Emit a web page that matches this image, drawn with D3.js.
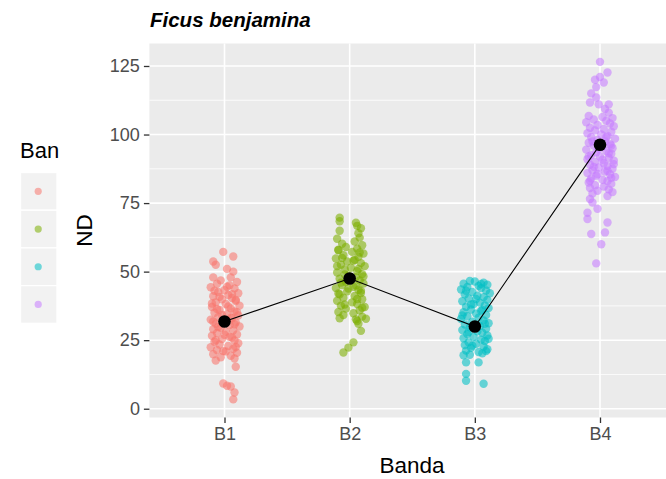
<!DOCTYPE html>
<html>
<head>
<meta charset="utf-8">
<script src="https://cdn.jsdelivr.net/npm/d3@7"></script>
<style>
  html, body { margin: 0; padding: 0; background: #ffffff; }
  svg { display: block; font-family: "Liberation Sans", Arial, sans-serif; }
</style>
</head>
<body>
<svg id="chart" width="666" height="479"></svg>
<script>
// Bands along the transect and their colours
const bands = ["B1", "B2", "B3", "B4"];
const bandColors = ["#F8766D", "#7CAE00", "#00BFC4", "#C77CFF"];
const yTicks = [0, 25, 50, 75, 100, 125];

// Mean ND per band (black points joined by the line)
const bandMeans = [31.8, 47.5, 30.0, 96.3];

// Individual observations per band: [horizontal jitter (band units), ND]
const ndB1 = [
  [-0.01,57.2],[0.07,55.5],[-0.09,53.7],[-0.07,52.5],[0.02,51.0],[0.07,50.0],[-0.09,47.9],[0.05,47.9],
  [-0.03,46.8],[0.10,46.2],[-0.06,45.6],[0.04,45.0],[-0.11,44.3],[0.08,43.9],[0.00,43.2],[-0.05,42.6],
  [0.11,42.1],[0.03,41.5],[-0.09,41.0],[0.06,40.4],[-0.02,39.9],[0.09,39.3],[-0.07,38.8],[0.01,38.2],
  [0.12,37.6],[-0.10,37.1],[0.05,36.6],[-0.04,36.0],[0.08,35.5],[-0.08,35.0],[0.02,34.5],[0.11,34.0],
  [-0.05,33.5],[0.06,33.0],[-0.11,32.5],[-0.01,32.0],[0.09,31.5],[-0.07,31.0],[0.04,30.5],[0.12,30.0],
  [-0.03,29.5],[-0.09,29.0],[0.07,28.6],[0.01,28.1],[-0.06,27.6],[0.10,27.1],[-0.10,26.6],[0.04,26.2],
  [-0.02,25.4],[0.08,24.9],[-0.08,24.4],[0.11,23.9],[-0.04,23.4],[0.03,22.9],[-0.11,22.4],[0.07,21.9],
  [-0.06,21.4],[0.01,20.9],[0.10,20.4],[-0.09,19.9],[0.05,19.3],[-0.03,18.8],[0.08,18.3],[-0.07,17.6],
  [0.02,44.5],[-0.08,43.0],[0.06,41.8],[-0.04,40.8],[0.09,39.7],[-0.10,38.4],[0.03,37.3],[-0.06,36.4],
  [0.10,35.2],[-0.02,34.2],[0.05,33.2],[-0.09,31.8],[0.08,30.8],[-0.05,29.8],[0.00,27.0],[0.06,26.0],
  [-0.07,25.0],[0.09,22.5],[-0.01,21.0],
  [0.09,15.3],[-0.01,9.2],[0.02,8.4],[0.05,8.1],[0.08,5.9],[0.07,3.4]
];
const ndB2 = [
  [-0.08,69.7],[-0.08,68.4],[0.05,67.8],[0.06,66.7],[0.09,65.8],[-0.08,64.9],[0.07,64.0],[0.08,62.4],
  [-0.10,62.0],[0.04,61.0],[-0.06,60.2],
  [0.10,59.6],[-0.03,59.0],[0.06,58.4],[-0.09,57.8],[0.02,57.2],[0.11,56.6],[-0.05,56.0],[0.07,55.4],
  [-0.11,54.8],[0.04,54.3],[-0.02,53.7],[0.09,53.1],[-0.07,52.5],[0.12,52.0],[0.01,51.4],[-0.04,50.8],
  [0.06,50.2],[-0.10,49.7],[0.10,49.1],[-0.01,48.5],[0.05,48.0],[-0.08,47.4],[0.08,46.8],[-0.03,46.2],
  [0.11,45.7],[-0.06,45.1],[0.03,44.5],[-0.11,44.0],[0.07,43.4],[-0.02,42.8],[0.09,42.2],[-0.08,41.7],
  [0.04,41.1],[-0.05,40.5],[0.10,39.9],[-0.10,39.4],[0.02,38.8],[0.06,38.2],[-0.07,37.6],[0.12,37.1],
  [-0.03,36.5],[0.08,35.9],[-0.09,35.3],[0.03,34.8],[-0.05,34.2],[0.10,33.6],
  [-0.09,58.0],[0.08,57.0],[-0.06,55.0],[0.03,54.0],[-0.10,52.0],[0.07,51.0],[-0.04,49.0],[0.11,48.2],
  [-0.07,46.0],[0.05,45.0],[-0.01,43.8],[0.09,43.0],[-0.09,42.0],[0.06,40.0],[-0.04,38.0],[0.10,36.8],
  [-0.08,33.0],[0.05,32.6],
  [0.06,32.0],[0.13,32.8],[0.07,31.0],[0.09,28.4],[0.03,24.2],[-0.01,22.3],[-0.05,20.5]
];
const ndB3 = [
  [-0.04,46.6],[0.00,46.4],[0.07,46.0],[-0.09,45.6],[0.10,45.2],[0.03,44.8],[-0.06,44.4],[0.05,44.0],
  [-0.11,43.5],[0.09,43.1],[-0.02,42.6],[0.12,42.1],[-0.08,41.7],[0.02,41.2],[0.07,40.7],[-0.05,40.2],
  [0.10,39.7],[-0.10,39.2],[0.04,38.7],[-0.01,38.2],[0.08,37.7],[-0.07,37.2],[0.11,36.7],[-0.03,36.2],
  [0.05,35.7],[-0.09,35.2],[0.01,34.7],[0.09,34.2],[-0.06,33.7],[0.03,33.2],[-0.11,32.7],[0.07,32.2],
  [-0.02,31.7],[0.11,31.2],[-0.08,30.7],[0.04,30.2],[-0.04,29.7],[0.09,29.2],[-0.10,28.7],[0.02,28.2],
  [0.06,27.7],[-0.06,27.2],[0.10,26.7],[-0.01,26.2],[-0.09,25.7],[0.05,25.2],[0.08,24.7],[-0.05,24.2],
  [0.01,23.7],[-0.08,23.2],[0.07,22.7],[-0.03,22.2],[0.10,21.7],[-0.07,21.2],[0.03,20.7],[0.06,20.2],
  [-0.04,19.7],
  [0.05,45.5],[-0.07,43.0],[0.01,40.0],[-0.03,38.0],[0.06,36.0],[-0.10,34.0],[0.08,31.0],[-0.05,28.0],
  [0.11,25.5],[-0.02,23.0],[0.09,21.0],[-0.09,19.5],
  [-0.07,16.9],[0.03,16.9],[-0.07,12.7],[-0.07,10.2],[0.07,9.1]
];
const ndB4 = [
  [0.00,126.5],[0.06,122.6],[0.00,121.0],[-0.04,120.0],[0.03,119.0],[-0.03,117.3],[-0.07,115.0],
  [-0.03,113.5],[-0.08,111.7],[-0.01,111.0],[0.07,111.0],[0.04,109.3],[0.07,108.0],
  [-0.09,106.8],[0.02,106.4],[0.10,106.0],[-0.05,105.5],[0.05,105.0],[-0.11,104.5],[0.08,104.0],
  [-0.02,103.5],[0.11,103.0],[-0.08,102.5],[0.03,102.0],[-0.04,101.5],[0.09,101.0],[-0.10,100.5],
  [0.01,100.0],[0.06,99.5],[-0.07,99.0],[0.12,98.5],[-0.02,98.0],[0.04,97.5],[-0.09,97.0],[0.08,96.5],
  [-0.05,96.0],[0.02,95.5],[0.10,95.0],[-0.11,94.5],[0.05,94.0],[-0.03,93.5],[0.09,93.0],[-0.07,92.5],
  [0.00,92.0],[0.07,91.5],[-0.10,91.0],[0.11,90.5],[-0.04,90.0],[0.03,89.5],[-0.08,89.0],[0.06,88.5],
  [-0.01,88.0],[0.10,87.5],[-0.06,87.0],[0.04,86.5],[-0.10,86.0],[0.08,85.5],[-0.03,85.0],[0.12,84.5],
  [-0.07,84.0],[0.02,83.5],[0.06,83.0],[-0.09,82.5],[0.09,82.0],[-0.04,81.5],[0.03,81.0],[-0.08,80.5],
  [0.07,80.0],[-0.02,79.5],[0.10,79.0],[-0.06,78.5],
  [0.05,99.0],[-0.06,97.5],[0.09,96.0],[-0.01,94.8],[0.07,93.2],[-0.09,92.0],[0.02,90.8],[0.11,89.2],
  [-0.05,88.2],[0.06,86.8],[-0.02,85.6],[0.09,84.2],[-0.08,83.2],
  [-0.08,76.5],[-0.06,75.2],[0.06,77.6],[-0.02,72.9],[-0.10,71.5],[-0.10,69.2],[0.06,67.9],[0.04,64.3],
  [-0.07,63.7],[0.01,60.0],[-0.03,53.0]
];
const observations = [ndB1, ndB2, ndB3, ndB4];

// ---- layout ----
const svg = d3.select("#chart");
const panel = { left: 149.4, right: 675, top: 43.5, bottom: 417.5 };

const x = d3.scalePoint().domain(bands).range([224.5, 600]);
const bandStep = x.step();
const y = d3.scaleLinear().domain([-3.2, 133.2]).range([panel.bottom, panel.top]);
const color = d3.scaleOrdinal().domain(bands).range(bandColors);

// panel background
svg.append("rect")
  .attr("x", panel.left).attr("y", panel.top)
  .attr("width", panel.right - panel.left).attr("height", panel.bottom - panel.top)
  .attr("fill", "#EBEBEB");

const grid = svg.append("g");
// minor horizontal grid (half-way between major breaks)
const minorY = yTicks.map(t => t + 12.5);
grid.selectAll("line.minor")
  .data(minorY.filter(v => y(v) >= panel.top))
  .join("line")
  .attr("x1", panel.left).attr("x2", panel.right)
  .attr("y1", d => y(d)).attr("y2", d => y(d))
  .attr("stroke", "#ffffff").attr("stroke-width", 0.8);
// major horizontal grid
grid.selectAll("line.majorY")
  .data(yTicks)
  .join("line")
  .attr("x1", panel.left).attr("x2", panel.right)
  .attr("y1", d => y(d)).attr("y2", d => y(d))
  .attr("stroke", "#ffffff").attr("stroke-width", 1.6);
// vertical grid at each band
grid.selectAll("line.majorX")
  .data(bands)
  .join("line")
  .attr("x1", d => x(d)).attr("x2", d => x(d))
  .attr("y1", panel.top).attr("y2", panel.bottom)
  .attr("stroke", "#ffffff").attr("stroke-width", 1.6);

// jittered observations
const pts = svg.append("g");
observations.forEach((obs, i) => {
  pts.append("g").selectAll("circle")
    .data(obs)
    .join("circle")
    .attr("cx", d => x(bands[i]) + d[0] * bandStep)
    .attr("cy", d => y(d[1]))
    .attr("r", 4.2)
    .attr("fill", color(bands[i]))
    .attr("fill-opacity", 0.58);
});

// mean line and mean points
const meanData = bands.map((b, i) => ({ band: b, value: bandMeans[i] }));
svg.append("path")
  .datum(meanData)
  .attr("d", d3.line().x(d => x(d.band)).y(d => y(d.value)))
  .attr("fill", "none").attr("stroke", "#000000").attr("stroke-width", 1.1);
svg.append("g").selectAll("circle")
  .data(meanData)
  .join("circle")
  .attr("cx", d => x(d.band)).attr("cy", d => y(d.value))
  .attr("r", 6.3).attr("fill", "#000000");

// axes
const yAxis = d3.axisLeft(y).tickValues(yTicks).tickSize(5.5).tickPadding(4);
const gy = svg.append("g").attr("transform", `translate(${panel.left},0)`).call(yAxis);
const xAxis = d3.axisBottom(x).tickSize(5.5).tickPadding(4);
const gx = svg.append("g").attr("transform", `translate(0,${panel.bottom})`).call(xAxis);
[gy, gx].forEach(g => {
  g.select(".domain").remove();
  g.selectAll(".tick line").attr("stroke", "#333333").attr("stroke-width", 1.3);
  g.selectAll(".tick text")
    .attr("fill", "#4D4D4D")
    .style("font-size", "18px")
    .style("font-family", "'Liberation Sans', Arial, sans-serif");
});

// titles
svg.append("text")
  .attr("x", 150).attr("y", 27)
  .style("font-size", "20.5px").style("font-weight", "bold").style("font-style", "italic")
  .attr("fill", "#000000")
  .text("Ficus benjamina");

svg.append("text")
  .attr("x", (panel.left + 674.6) / 2).attr("y", 473)
  .attr("text-anchor", "middle")
  .style("font-size", "22.5px")
  .attr("fill", "#000000")
  .text("Banda");

svg.append("text")
  .attr("transform", `translate(92,${(panel.top + panel.bottom) / 2}) rotate(-90)`)
  .attr("text-anchor", "middle")
  .style("font-size", "22.5px")
  .attr("fill", "#000000")
  .text("ND");

// legend
const legend = svg.append("g").attr("transform", "translate(20,0)");
legend.append("text")
  .attr("x", 0).attr("y", 158)
  .style("font-size", "22px")
  .attr("fill", "#000000")
  .text("Ban");
const keyH = 37.7;
const keys = legend.selectAll("g.key")
  .data(bands)
  .join("g")
  .attr("transform", (d, i) => `translate(0.5,${172.5 + i * keyH})`);
keys.append("rect")
  .attr("width", 36.5).attr("height", keyH)
  .attr("fill", "#F2F2F2").attr("stroke", "#ffffff").attr("stroke-width", 1.3);
keys.append("circle")
  .attr("cx", 17.7).attr("cy", keyH / 2)
  .attr("r", 3.6)
  .attr("fill", d => color(d)).attr("fill-opacity", 0.55);
</script>
</body>
</html>
